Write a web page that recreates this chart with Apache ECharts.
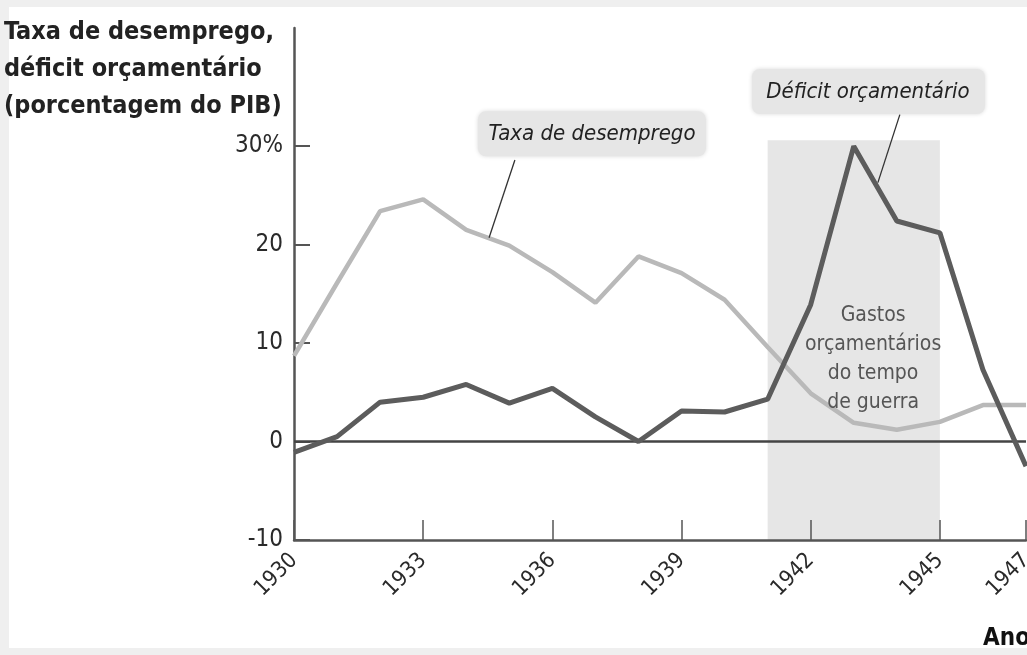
<!DOCTYPE html>
<html><head><meta charset="utf-8">
<script src="https://cdn.jsdelivr.net/npm/echarts@6/dist/echarts.min.js"></script>
<style>html,body{margin:0;padding:0;background:#fff}#c{width:1027px;height:655px}</style>
</head><body><div id="c"></div>
<script>
// ---- data ----
const years = [1930,1931,1932,1933,1934,1935,1936,1937,1938,1939,1940,1941,1942,1943,1944,1945,1946,1947];
const unemployment = [8.7,16.1,23.4,24.6,21.5,19.9,17.2,14.1,18.8,17.1,14.4,9.6,4.9,1.9,1.2,2.0,3.7,3.7];
const deficit = [-1.1,0.5,4.0,4.5,5.8,3.9,5.4,2.5,0.0,3.1,3.0,4.3,13.9,30.0,22.4,21.2,7.3,-2.5];
const xTickYears = [1930,1933,1936,1939,1942,1945,1947];
const yTickValues = [-10,0,10,20,30];
const warPeriod = [1941,1945];
const warTop = 30.6;
const titleLines = ['Taxa de desemprego,','déficit orçamentário','(porcentagem do PIB)'];
const labelUnemp = 'Taxa de desemprego';
const labelDef = 'Déficit orçamentário';
const warLabel = ['Gastos','orçamentários','do tempo','de guerra'];
const xName = 'Ano';

const FONT = "'DejaVu Sans Condensed','Liberation Sans Narrow','Roboto Condensed',Roboto,sans-serif";
const chart = echarts.init(document.getElementById('c'), null, {renderer:'canvas'});

const option = {
  backgroundColor: '#efefef',
  animation: false,
  grid: {left: 294, right: 1, top: 28, bottom: 115, containLabel: false, outerBoundsMode: 'none'},
  xAxis: {
    type: 'value', min: 1930, max: 1947,
    axisLine: {show: true, onZero: false, lineStyle: {color: '#555', width: 2.5}},
    axisTick: {show: true, inside: true, length: 20, customValues: xTickYears, lineStyle: {color: '#555', width: 1.5}},
    axisLabel: {customValues: xTickYears, rotate: 45, margin: 17, color: '#2a2a2a', fontSize: 22, fontFamily: FONT, formatter: v => String(v)},
    splitLine: {show: false}
  },
  yAxis: {
    type: 'value', min: -10, max: 42,
    axisLine: {show: true, onZero: false, lineStyle: {color: '#555', width: 2.5}},
    axisTick: {show: true, inside: true, length: 16, customValues: yTickValues, lineStyle: {color: '#555', width: 2}},
    axisLabel: {customValues: yTickValues, margin: 11, color: '#2a2a2a', fontSize: 24, fontFamily: FONT, formatter: v => v === 30 ? '30%' : String(v)},
    splitLine: {show: false}
  },
  series: [
    {
      name: labelUnemp, type: 'line', symbol: 'none', z: 3,
      data: years.map((y, i) => [y, unemployment[i]]),
      lineStyle: {color: '#b9b9b9', width: 4.5},
      markArea: {
        silent: true, z: 0,
        itemStyle: {color: '#e6e6e6'},
        data: [[{coord: [warPeriod[0], -10]}, {coord: [warPeriod[1], warTop]}]]
      },
      markLine: {
        silent: true, symbol: 'none', z: 2,
        lineStyle: {color: '#444', width: 2.5, type: 'solid'},
        label: {show: false},
        data: [{yAxis: 0}]
      }
    },
    {
      name: labelDef, type: 'line', symbol: 'none', z: 4,
      data: years.map((y, i) => [y, deficit[i]]),
      lineStyle: {color: '#5c5c5c', width: 5}
    }
  ]
};
chart.setOption(option);

function px(x, y){ return chart.convertToPixel({gridIndex: 0}, [x, y]); }

const uBoxC = px(1936.92, 31.2);
const dBoxC = px(1943.33, 35.5);
const uL0 = px(1935.13, 28.6), uL1 = px(1934.53, 20.7);
const dL0 = px(1944.07, 33.2), dL1 = px(1943.56, 26.3);
const warC = px(1943.45, 0);
const warY0 = px(1943, 14.3)[1];

const graphic = [
  {type: 'rect', z: -10, silent: true, shape: {x: 9, y: 7, width: 1018, height: 641}, style: {fill: '#ffffff'}},
  {type: 'text', z: 10, left: 4, top: 14, style: {text: titleLines.join('\n'), font: "bold 25px " + FONT, fill: '#222', lineHeight: 37}},
  {type: 'text', z: 10, right: -3, top: 627, style: {text: xName, font: "bold 24px " + FONT, fill: '#111'}},
  {type: 'rect', z: 10, shape: {x: uBoxC[0]-114, y: uBoxC[1]-23, width: 228, height: 45, r: 8}, style: {fill: '#e6e6e6', shadowBlur: 4, shadowColor: 'rgba(0,0,0,0.15)'}},
  {type: 'text', z: 11, x: uBoxC[0], y: uBoxC[1], style: {text: labelUnemp, font: "italic 22px " + FONT, fill: '#222', align: 'center', verticalAlign: 'middle'}},
  {type: 'line', z: 10, shape: {x1: uL0[0], y1: uL0[1], x2: uL1[0], y2: uL1[1]}, style: {stroke: '#333', lineWidth: 1.3}},
  {type: 'rect', z: 10, shape: {x: dBoxC[0]-116, y: dBoxC[1]-23, width: 233, height: 45, r: 8}, style: {fill: '#e6e6e6', shadowBlur: 4, shadowColor: 'rgba(0,0,0,0.15)'}},
  {type: 'text', z: 11, x: dBoxC[0], y: dBoxC[1], style: {text: labelDef, font: "italic 22px " + FONT, fill: '#222', align: 'center', verticalAlign: 'middle'}},
  {type: 'line', z: 10, shape: {x1: dL0[0], y1: dL0[1], x2: dL1[0], y2: dL1[1]}, style: {stroke: '#333', lineWidth: 1.3}},
  {type: 'text', z: 11, x: warC[0], y: warY0, style: {text: warLabel.join('\n'), font: "21px " + FONT, fill: '#555', align: 'center', verticalAlign: 'top', lineHeight: 29}}
];
chart.setOption({graphic: graphic});
</script>
</body></html>
